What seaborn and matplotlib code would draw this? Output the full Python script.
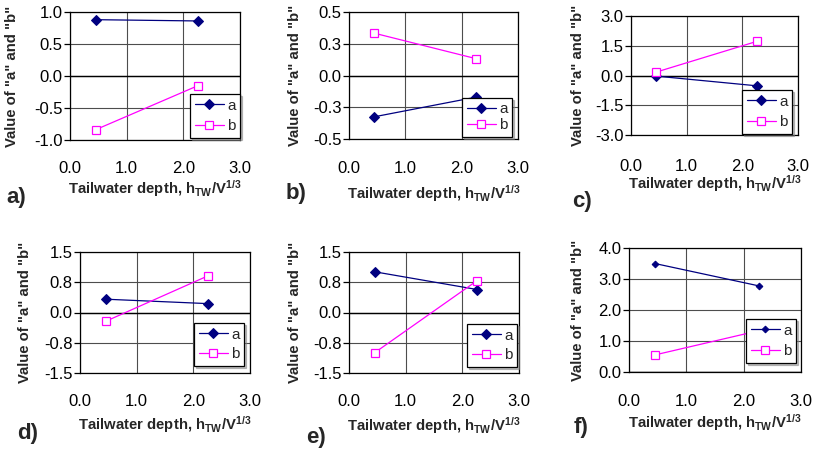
import numpy as np
import pandas as pd
import matplotlib
matplotlib.use("Agg")
import matplotlib.pyplot as plt
import seaborn as sns

# Tailwater depth (h_TW / V^(1/3)) at which the coefficients were fitted
tw_depth = [0.45, 2.26]

# Fitted coefficients "a" and "b" for each case a) .. f)
a_vals = {
    "a": [0.88, 0.86],
    "b": [-0.325, -0.17],
    "c": [-0.03, -0.52],
    "d": [0.33, 0.22],
    "e": [1.01, 0.57],
    "f": [3.50, 2.78],
}
b_vals = {
    "a": [-0.84, -0.15],
    "b": [0.333, 0.132],
    "c": [0.17, 1.72],
    "d": [-0.22, 0.91],
    "e": [-1.00, 0.79],
    "f": [0.55, 1.33],
}

# y-axis ticks and their printed labels (one decimal, as in the original sheets)
y_ticks = {
    "a": [-1.0, -0.5, 0.0, 0.5, 1.0],
    "b": [-0.5, -0.25, 0.0, 0.25, 0.5],
    "c": [-3.0, -1.5, 0.0, 1.5, 3.0],
    "d": [-1.5, -0.75, 0.0, 0.75, 1.5],
    "e": [-1.5, -0.75, 0.0, 0.75, 1.5],
    "f": [0.0, 1.0, 2.0, 3.0, 4.0],
}
y_labels = {
    "a": ["-1.0", "-0.5", "0.0", "0.5", "1.0"],
    "b": ["-0.5", "-0.3", "0.0", "0.3", "0.5"],
    "c": ["-3.0", "-1.5", "0.0", "1.5", "3.0"],
    "d": ["-1.5", "-0.8", "0.0", "0.8", "1.5"],
    "e": ["-1.5", "-0.8", "0.0", "0.8", "1.5"],
    "f": ["0.0", "1.0", "2.0", "3.0", "4.0"],
}
x_ticks = [0.0, 1.0, 2.0, 3.0]
x_labels = ["0.0", "1.0", "2.0", "3.0"]

sns.set_style("white")
plt.rcParams["font.family"] = ["Liberation Sans", "DejaVu Sans"]

W, H = 817, 449
fig = plt.figure(figsize=(W / 100, H / 100), dpi=100)
fig.patch.set_facecolor("white")

# panel boxes in pixels: left, right, top, bottom
boxes = {
    "a": (70, 240, 12, 140),
    "b": (349, 518, 12, 139),
    "c": (631, 798, 16, 135),
    "d": (80, 250, 252, 373),
    "e": (349, 519, 252, 373),
    "f": (629, 801, 248, 372),
}
# lower-right corner of each legend box, in pixels
legend_corner = {
    "a": (240, 138), "b": (512, 137), "c": (792, 134),
    "d": (244, 366), "e": (517, 367), "f": (796, 363),
}
legend_spacing = {"a": 0.45, "b": 0.15, "c": 0.45, "d": 0.38, "e": 0.38, "f": 0.45}
# panel letter positions (left x, centre y) in pixels
letters = {
    "a": (6, 197), "b": (286, 194), "c": (572, 202),
    "d": (17, 433), "e": (306, 438), "f": (574, 427),
}
xlabel_y = {"a": 189, "b": 194, "c": 184, "d": 425, "e": 426, "f": 423}
xtick_y = {"a": 166, "b": 166, "c": 164, "d": 399, "e": 399, "f": 399}
ylabel_off = {"a": 58, "b": 54, "c": 53, "d": 55, "e": 54, "f": 51}

navy = "#000080"
magenta = "#FF00FF"
tick_fs = 12
label_fs = 10.7

for key in ["a", "b", "c", "d", "e", "f"]:
    l, r, t, b = boxes[key]
    ax = fig.add_axes([l / W, 1 - b / H, (r - l) / W, (b - t) / H])
    ax.set_facecolor("white")

    df = pd.DataFrame({"x": tw_depth, "a": a_vals[key], "b": b_vals[key]})
    ams = 3.4 if key == "f" else 4.6
    sns.lineplot(data=df, x="x", y="a", ax=ax, color=navy, lw=0.9,
                 marker="D", markersize=ams, markeredgecolor=navy,
                 markerfacecolor=navy, label="a", zorder=3)
    sns.lineplot(data=df, x="x", y="b", ax=ax, color=magenta, lw=0.9,
                 marker="s", markersize=6, markeredgecolor=magenta,
                 markerfacecolor="white", markeredgewidth=0.9, label="b",
                 zorder=3)

    yt = y_ticks[key]
    ax.set_xlim(0, 3)
    ax.set_ylim(yt[0], yt[-1])
    ax.set_xticks(x_ticks)
    ax.set_xticklabels(x_labels)
    ax.set_yticks(yt)
    ax.set_yticklabels(y_labels[key])

    ax.grid(True, color="#4d4d4d", lw=0.8, zorder=0)
    ax.axhline(0, color="black", lw=1.0, zorder=1)
    for s in ax.spines.values():
        s.set_visible(True)
        s.set_color("black")
        s.set_linewidth(0.9)

    pad_px = xtick_y[key] - b - 5
    ax.tick_params(axis="x", length=0, pad=pad_px * 0.72, labelsize=tick_fs,
                   colors="black")
    ax.tick_params(axis="y", length=4, width=0.9, pad=1.5, labelsize=tick_fs,
                   colors="black", direction="out", left=True)

    ax.set_xlabel(r'Tailwater depth, h$\mathregular{_{TW}}$/V$\mathregular{^{1/3}}$',
                  fontsize=label_fs, fontweight="bold")
    ax.xaxis.set_label_coords(0.5, -(xlabel_y[key] - b) / (b - t))
    ax.xaxis.label.set_va("center")
    ax.set_ylabel('Value of "a" and "b"', fontsize=label_fs, fontweight="bold")
    ax.yaxis.set_label_coords(-ylabel_off[key] / (r - l), 0.5)
    ax.yaxis.label.set_va("center")

    cx, cy = legend_corner[key]
    leg = ax.legend(loc="lower right",
                    bbox_to_anchor=((cx - l) / (r - l), (b - cy) / (b - t)),
                    frameon=True, fancybox=False,
                    shadow={"ox": 1.5, "oy": -1.5, "shade": 0.5},
                    fontsize=11, handlelength=1.9,
                    handletextpad=0.2, borderpad=0.3,
                    labelspacing=legend_spacing[key],
                    borderaxespad=0.0, framealpha=1)
    leg.get_frame().set_edgecolor("black")
    leg.get_frame().set_linewidth(0.9)
    leg.set_zorder(5)

    lx, ly = letters[key]
    fig.text(lx / W, 1 - ly / H, key + ")", fontsize=16, fontweight="bold",
             ha="left", va="center")

fig.savefig("out.png", dpi=100, facecolor="white")
